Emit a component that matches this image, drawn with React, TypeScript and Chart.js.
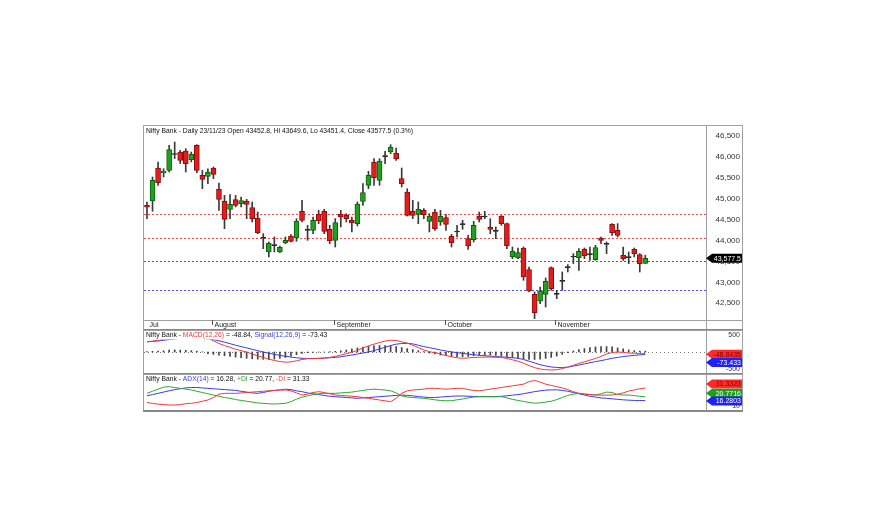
import React, { useEffect, useRef } from 'react';
import { Chart, registerables } from 'chart.js';
Chart.register(...registerables);

// ---------- data ----------
const openP = [44844,44947,45737,45625,45681,46060,46119,46143,45936,46279,
 45561,45537,45737,45226,44947,44748,44979,44884,44947,44788,
 44541,44070,43728,43880,43728,43943,44110,44062,44700,44245,
 44245,44636,44700,44270,44006,44628,44604,44485,44405,44939,
 45322,45880,45442,46008,46119,46096,45482,45163,44700,44628,
 44724,44461,44684,44445,44549,44102,44206,44381,44046,44022,
 44581,44565,44326,44222,44589,44405,43608,43584,43823,43305,
 42715,42548,42715,43353,42715,43026,43353,43608,43592,43791,
 43664,43544,44062,43911,44389,44246,43648,43592,43791,43664,
 43452.8];
const highP = [44924,45521,45880,45720,46279,46359,46159,46199,46119,46295,
 45681,45720,45761,45378,45083,45099,45083,45043,44987,44924,
 44684,44166,43967,44086,43871,44086,44142,44525,44963,44365,
 44565,44724,44748,44365,44525,44724,44644,44565,44924,45362,
 45657,45960,45960,46135,46295,46215,45737,45242,44963,44924,
 44764,44644,44748,44724,44620,44150,44365,44485,44126,44461,
 44684,44700,44525,44326,44600,44420,43847,43823,43847,43369,
 42771,42890,43106,43369,42811,43249,43425,43688,43807,43823,
 43847,43887,44086,43967,44405,44405,43847,43728,43823,43688,
 43649.6];
const lowP = [44525,44700,45322,45521,45641,45960,45840,45641,45880,45625,
 45242,45362,45482,44724,44286,44525,44804,44804,44525,44445,
 44166,43807,43608,43728,43712,43927,43967,43983,44445,44006,
 44166,44405,44166,43927,43847,44326,44445,44206,44349,44844,
 45242,45322,45322,45840,46080,45920,45282,44588,44525,44405,
 44525,44206,44246,44365,44246,43847,44086,44270,43791,43967,
 44445,44525,44166,44046,44365,43807,43568,43568,43050,42771,
 42133,42492,42412,42811,42611,42811,43249,43449,43289,43568,
 43528,43528,43927,43688,44126,44086,43528,43449,43608,43249,
 43451.4];
const closeP = [44800,45442,45386,45665,46175,46070,45920,45840,46064,45681,
 45466,45641,45585,44987,44509,44868,44844,44955,44868,44525,
 44190,44060,43943,43890,43839,44007,43983,44469,44485,44250,
 44485,44477,44222,43990,44429,44565,44525,44421,44876,45147,
 45561,45506,45904,46012,46239,45960,45362,44604,44604,44748,
 44620,44589,44286,44581,44389,43951,44210,44389,43871,44365,
 44509,44570,44270,44226,44405,43871,43751,43712,43130,42795,
 42276,42795,43026,42851,42720,43030,43360,43612,43744,43632,
 43668,43831,44006,43915,44190,44126,43568,43596,43688,43449,
 43577.5];

const macdLine = [300,320,345,370,390,410,425,440,450,455,
 450,400,330,250,190,140,80,40,0,-60,
 -110,-160,-210,-250,-280,-300,-290,-260,-220,-200,
 -195,-190,-180,-160,-130,-90,-50,-10,50,120,
 180,230,280,320,345,340,300,260,200,130,
 60,10,-20,-60,-105,-140,-170,-185,-175,-160,
 -155,-150,-150,-155,-160,-190,-230,-270,-330,-400,
 -460,-500,-520,-530,-520,-490,-445,-390,-335,-290,
 -240,-190,-130,-60,-15,0,-10,-30,-35,-50,
 -48.84];
const signalLine = [300,310,325,345,365,385,400,410,415,415,
 400,385,365,330,290,245,200,160,120,80,
 40,0,-35,-70,-100,-125,-150,-170,-185,-190,
 -190,-185,-180,-170,-160,-140,-115,-90,-60,-30,
 0,40,90,140,190,230,250,255,240,200,
 160,127,95,60,30,5,-20,-40,-60,-80,
 -95,-110,-120,-135,-145,-155,-170,-185,-220,-270,
 -320,-375,-410,-440,-455,-460,-445,-415,-385,-350,
 -315,-285,-255,-220,-185,-160,-135,-115,-100,-85,
 -73.43];
const macdHist = [15,20,25,35,55,60,55,50,40,25,5,
 -50,-70,-90,-110,-130,-150,-170,-185,-200,-210,-215,-220,-210,-190,-160,-120,-80,
 -45,-20,-10,-5,0,10,20,35,
 60,90,120,145,165,180,190,190,180,160,130,100,
 70,40,10,-30,-60,
 -90,-110,-130,-140,-140,-130,-110,-100,-90,-90,-100,-120,-140,-160,-180,-200,-215,-220,-210,-190,-160,-120,
 -70,-20,30,70,100,130,150,160,160,150,120,90,60,40,30,25];

const adxLine = [22,23.5,25,26.5,28,29.5,30.5,31.5,32,32,
 31.5,31,30.5,30,29.5,29,28.5,27.5,26.5,25.5,
 25,26,27.5,28.5,29,30,29.5,28,27,25.5,
 24.5,23.5,22.5,21.5,21,20.5,20,19.5,19,19.5,
 20,20.5,21,21.5,22,22.5,23,22.5,22,21,
 20.5,20,20,20.5,21,21.5,21.8,21.8,21.5,21.3,
 21,21,21,21,21.5,22,22.8,23.5,24.5,25.8,
 27,28,28.8,29.2,29.2,28.5,27.5,26,24.5,23,
 21.5,20.5,19.5,19,18.4,17.8,17.2,16.8,16.5,16.4,
 16.28];
const minusDI = [14,13,12,11.5,11,11,11.5,12.5,13,14,
 15.5,17,20,24,25,25,25,25.5,26,26.5,
 27,27.5,28,28.5,29,29,28,25.5,23,24,
 26,27,26,24.5,23,22.5,22,21.5,21,20,
 19,18,17,16,15,19,25,28,29,29.5,
 30,31,31,30.5,30,30.5,31,31,29.5,28.5,
 28,29,30,31,32,33,34,35,36,39,
 40.5,38.5,36,34.5,33,31.5,29.5,27,25,24,
 23.5,23,22.8,22.8,23,24,25.5,27.8,29,30.5,
 31.33];
const plusDI = [25,27.5,30,32.5,33,32,31,30,29,27.5,
 26,24.5,23,21.5,20,19,17.5,16.5,15.5,14.5,
 13.5,13,12.5,12.2,12.5,13,15,18,20.5,22,
 23.5,24.5,25,25,25,25.5,26,26.5,27.5,28.5,
 29.5,30,29.5,29,28,25.5,22,20.5,20,19.5,
 19,18.2,17.2,16.5,16,16.2,17.2,18.2,19.5,20.5,
 21,21,21,21,21,19.5,17.8,16.5,15.3,14,
 13.2,13.5,14.5,15.5,17.5,20,22.5,24,25,24.3,
 23.6,23,24.5,26.5,26,23.5,23,23,22.3,21.5,
 20.77];

const priceTicks = [42500, 43000, 43500, 44000, 44500, 45000, 45500, 46000, 46500];
const macdTicks = [-500, 500];
const adxTicks = [10];
const monthNames = ['Jul', 'August', 'September', 'October', 'November'];
const monthStartIdx = [0, 12, 34, 54, 74];
const redLevels = [44640, 44060];
const blueLevels = [43500, 42810];

const priceTitle = 'Nifty Bank - Daily 23/11/23 Open 43452.8, Hi 43649.6, Lo 43451.4, Close 43577.5 (0.3%)';
const lastPriceText = '43,577.5';
const macdTagTexts = ['-48.8435', '-73.433'];
const adxTagTexts = ['31.3323', '20.7716', '16.2803'];

// ---------- style ----------
const FONT = "'Liberation Sans', Arial, sans-serif";
const RED = '#f03a3a';
const BLUE = '#3a3aee';
const GREEN = '#2fa82f';
const FRAME = '#a0a0a0';
const X_MIN = -0.54;
const X_MAX = 100.96;
const AXIS_W = 34;
const RIGHT_PAD = 3;
const CW = 600;

const n = closeP.length;
const isDoji = (i: number) => Math.abs(closeP[i] - openP[i]) <= 12;
const bodyFill = closeP.map((c, i) => (isDoji(i) ? '#202020' : c > openP[i] ? '#22a022' : '#e41c1c'));
const bodyEdge = closeP.map((c, i) => (isDoji(i) ? '#202020' : c > openP[i] ? '#0d5f0d' : '#8e0c0c'));

function xScale() {
  return { type: 'linear', min: X_MIN, max: X_MAX, offset: false, display: false };
}

function yScale(min: number, max: number, ticks: number[], size: number, fmt: (v: number) => string) {
  return {
    position: 'right',
    min,
    max,
    grid: { display: false, drawTicks: false },
    border: { display: false },
    afterBuildTicks: (s: any) => {
      s.ticks = ticks.map((v) => ({ value: v }));
    },
    afterFit: (s: any) => {
      s.width = AXIS_W;
      s.paddingTop = 0;
      s.paddingBottom = 0;
    },
    ticks: {
      font: { family: FONT, size },
      color: '#333',
      crossAlign: 'far',
      padding: 4,
      callback: (v: any) => fmt(Number(v)),
    },
  };
}

function drawTitle(ctx: CanvasRenderingContext2D, x: number, y: number, parts: [string, string][], bg: boolean) {
  ctx.save();
  ctx.font = `6.75px ${FONT}`;
  ctx.textBaseline = 'middle';
  let w = 0;
  parts.forEach(([t]) => (w += ctx.measureText(t).width));
  if (bg) {
    ctx.fillStyle = '#ffffff';
    ctx.fillRect(x - 1, y - 4, w + 2, 8);
  }
  let cx = x;
  parts.forEach(([t, c]) => {
    ctx.fillStyle = c;
    ctx.fillText(t, cx, y);
    cx += ctx.measureText(t).width;
  });
  ctx.restore();
}

function drawTag(chart: any, y: number, text: string, bg: string, fg: string) {
  const ctx = chart.ctx as CanvasRenderingContext2D;
  const x0 = chart.chartArea.right;
  const x1 = chart.width - 1;
  ctx.save();
  ctx.fillStyle = bg;
  ctx.beginPath();
  ctx.moveTo(x0, y);
  ctx.lineTo(x0 + 6, y - 4.5);
  ctx.lineTo(x1, y - 4.5);
  ctx.lineTo(x1, y + 4.5);
  ctx.lineTo(x0 + 6, y + 4.5);
  ctx.closePath();
  ctx.fill();
  ctx.fillStyle = fg;
  ctx.font = `7px ${FONT}`;
  ctx.textBaseline = 'middle';
  ctx.textAlign = 'right';
  ctx.fillText(text, x1 - 1, y + 0.5);
  ctx.restore();
}

function drawFrame(chart: any, extraBottomLine: boolean, bottomWidth: number) {
  const ctx = chart.ctx as CanvasRenderingContext2D;
  const { width, height, chartArea } = chart;
  ctx.save();
  ctx.strokeStyle = FRAME;
  ctx.lineWidth = 1;
  ctx.beginPath();
  ctx.moveTo(0, 0.5);
  ctx.lineTo(width, 0.5);
  ctx.moveTo(0.5, 0);
  ctx.lineTo(0.5, height);
  ctx.moveTo(width - 0.5, 0);
  ctx.lineTo(width - 0.5, height);
  ctx.moveTo(Math.round(chartArea.right) + 0.5, 0);
  ctx.lineTo(Math.round(chartArea.right) + 0.5, height);
  if (extraBottomLine) {
    ctx.moveTo(0, Math.round(chartArea.bottom) + 0.5);
    ctx.lineTo(width, Math.round(chartArea.bottom) + 0.5);
  }
  ctx.stroke();
  ctx.strokeStyle = '#888';
  ctx.lineWidth = bottomWidth;
  ctx.beginPath();
  ctx.moveTo(0, height - bottomWidth / 2);
  ctx.lineTo(width, height - bottomWidth / 2);
  ctx.stroke();
  ctx.restore();
}

export default function App() {
  const priceRef = useRef<HTMLCanvasElement>(null);
  const macdRef = useRef<HTMLCanvasElement>(null);
  const adxRef = useRef<HTMLCanvasElement>(null);

  useEffect(() => {
    const common = {
      responsive: false,
      animation: false,
      devicePixelRatio: 1,
      plugins: { legend: { display: false }, tooltip: { enabled: false } },
    };

    // ---------- price chart ----------
    const priceDecor = {
      id: 'priceDecor',
      beforeDatasetsDraw(chart: any) {
        const ctx = chart.ctx as CanvasRenderingContext2D;
        const y = chart.scales.y;
        const { left, right } = chart.chartArea;
        ctx.save();
        ctx.lineWidth = 1;
        ctx.setLineDash([2, 2]);
        const draw = (vals: number[], col: string) => {
          ctx.strokeStyle = col;
          vals.forEach((v) => {
            const py = Math.round(y.getPixelForValue(v)) + 0.5;
            ctx.beginPath();
            ctx.moveTo(left, py);
            ctx.lineTo(right, py);
            ctx.stroke();
          });
        };
        draw(redLevels, '#f24a4a');
        draw(blueLevels, '#4a4af2');
        ctx.restore();
      },
      afterDraw(chart: any) {
        const ctx = chart.ctx as CanvasRenderingContext2D;
        const xs = chart.scales.x;
        const { left, bottom } = chart.chartArea;
        drawFrame(chart, true, 1);
        drawTitle(ctx, left + 2, 6.5, [[priceTitle, '#111']], false);
        ctx.save();
        ctx.font = `7px ${FONT}`;
        ctx.textBaseline = 'middle';
        ctx.fillStyle = '#222';
        ctx.strokeStyle = '#555';
        monthNames.forEach((m, k) => {
          const idx = monthStartIdx[k];
          const px = Math.round(xs.getPixelForValue(idx - 0.25)) + 0.5;
          if (idx > 0) {
            ctx.beginPath();
            ctx.moveTo(px, bottom);
            ctx.lineTo(px, bottom + 5);
            ctx.stroke();
          }
          ctx.fillText(m, idx > 0 ? px + 2 : px + 3, bottom + 5);
        });
        ctx.restore();
        drawTag(chart, chart.scales.y.getPixelForValue(closeP[n - 1]), lastPriceText, '#000', '#fff');
      },
    };

    const price = new Chart(priceRef.current!, {
      type: 'bar',
      data: {
        datasets: [
          {
            data: openP.map((o, i) => ({ x: i, y: [o, closeP[i]] })),
            backgroundColor: bodyFill,
            borderColor: bodyEdge,
            borderWidth: 1,
            borderSkipped: false,
            barThickness: 5,
            minBarLength: 1,
            grouped: false,
            order: 0,
          },
          {
            data: lowP.map((l, i) => ({ x: i, y: [l, highP[i]] })),
            backgroundColor: '#3a3a3a',
            barThickness: 1,
            grouped: false,
            order: 1,
          },
        ],
      } as any,
      options: {
        ...common,
        layout: { padding: { left: 1, top: 1, right: RIGHT_PAD, bottom: 10 } },
        scales: {
          x: xScale(),
          y: yScale(42100, 46742, priceTicks, 8, (v) => v.toLocaleString('en-US')),
        },
      } as any,
      plugins: [priceDecor],
    });

    // ---------- MACD chart ----------
    const macdDecor = {
      id: 'macdDecor',
      beforeDatasetsDraw(chart: any) {
        const ctx = chart.ctx as CanvasRenderingContext2D;
        const y = chart.scales.y;
        const { left, right } = chart.chartArea;
        const py = Math.round(y.getPixelForValue(0)) + 0.5;
        ctx.save();
        ctx.strokeStyle = '#777';
        ctx.setLineDash([1, 3]);
        ctx.beginPath();
        ctx.moveTo(left, py);
        ctx.lineTo(right, py);
        ctx.stroke();
        ctx.restore();
      },
      afterDraw(chart: any) {
        const y = chart.scales.y;
        drawFrame(chart, false, 1);
        drawTitle(chart.ctx, chart.chartArea.left + 2, 5.5, [
          ['Nifty Bank - ', '#111'],
          ['MACD(12,26)', RED],
          [' = -48.84, ', '#111'],
          ['Signal(12,26,9)', BLUE],
          [' = -73.43', '#111'],
        ], true);
        drawTag(chart, y.getPixelForValue(macdLine[n - 1]) + 0.6, macdTagTexts[0], '#ff2a2a', '#7a0000');
        drawTag(chart, y.getPixelForValue(signalLine[n - 1]) + 8, macdTagTexts[1], '#1f1fff', '#ffffff');
      },
    };

    const macd = new Chart(macdRef.current!, {
      type: 'bar',
      data: {
        datasets: [
          {
            type: 'line',
            data: macdLine.map((v, i) => ({ x: i, y: v })),
            borderColor: RED,
            borderWidth: 1,
            pointRadius: 0,
            order: 0,
          },
          {
            type: 'line',
            data: signalLine.map((v, i) => ({ x: i, y: v })),
            borderColor: BLUE,
            borderWidth: 1,
            pointRadius: 0,
            order: 1,
          },
          {
            type: 'bar',
            data: macdHist.map((v, i) => ({ x: i, y: v })),
            backgroundColor: '#444',
            barThickness: 1,
            grouped: false,
            order: 2,
          },
        ],
      } as any,
      options: {
        ...common,
        layout: { padding: { left: 1, top: 1, right: RIGHT_PAD, bottom: 1 } },
        scales: {
          x: xScale(),
          y: yScale(-618, 618, macdTicks, 7, (v) => String(v)),
        },
      } as any,
      plugins: [macdDecor],
    });

    // ---------- ADX chart ----------
    const adxDecor = {
      id: 'adxDecor',
      afterDraw(chart: any) {
        const y = chart.scales.y;
        drawFrame(chart, false, 2);
        drawTitle(chart.ctx, chart.chartArea.left + 2, 5.5, [
          ['Nifty Bank - ', '#111'],
          ['ADX(14)', BLUE],
          [' = 16.28, ', '#111'],
          ['+DI', GREEN],
          [' = 20.77, ', '#111'],
          ['-DI', RED],
          [' = 31.33', '#111'],
        ], true);
        drawTag(chart, y.getPixelForValue(minusDI[n - 1]) - 4, adxTagTexts[0], '#ff2a2a', '#7a0000');
        drawTag(chart, y.getPixelForValue(plusDI[n - 1]) - 3.5, adxTagTexts[1], '#1f9f1f', '#ffffff');
        drawTag(chart, y.getPixelForValue(adxLine[n - 1]) + 0.4, adxTagTexts[2], '#1f1fff', '#ffffff');
      },
    };

    const adx = new Chart(adxRef.current!, {
      type: 'line',
      data: {
        datasets: [
          { data: minusDI.map((v, i) => ({ x: i, y: v })), borderColor: RED, borderWidth: 1, pointRadius: 0 },
          { data: plusDI.map((v, i) => ({ x: i, y: v })), borderColor: GREEN, borderWidth: 1, pointRadius: 0 },
          { data: adxLine.map((v, i) => ({ x: i, y: v })), borderColor: BLUE, borderWidth: 1, pointRadius: 0 },
        ],
      } as any,
      options: {
        ...common,
        layout: { padding: { left: 1, top: 1, right: RIGHT_PAD, bottom: 2 } },
        scales: {
          x: xScale(),
          y: yScale(5, 47, adxTicks, 7, (v) => String(v)),
        },
      } as any,
      plugins: [adxDecor],
    });

    return () => {
      price.destroy();
      macd.destroy();
      adx.destroy();
    };
  }, []);

  const canvasStyle = (top: number, h: number): React.CSSProperties => ({
    position: 'absolute',
    left: 143,
    top,
    width: CW,
    height: h,
  });

  return (
    <div style={{ position: 'fixed', left: 0, top: 0, width: 883, height: 525, background: '#fff' }}>
      <canvas ref={priceRef} width={CW} height={205} style={canvasStyle(125, 205)} />
      <canvas ref={macdRef} width={CW} height={44} style={canvasStyle(330, 44)} />
      <canvas ref={adxRef} width={CW} height={38} style={canvasStyle(374, 38)} />
    </div>
  );
}
